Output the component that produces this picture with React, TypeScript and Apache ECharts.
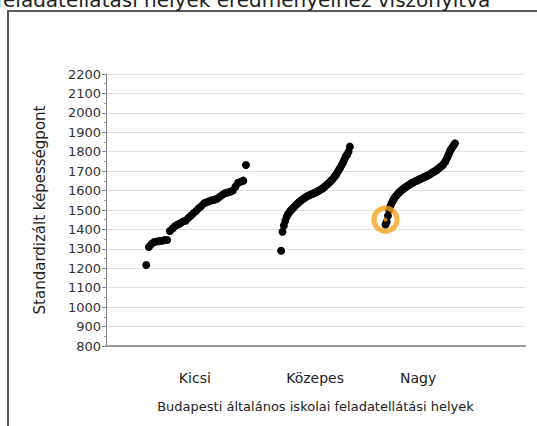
import React, { useEffect, useRef } from "react";
import * as echarts from "echarts";

const categories = ["Kicsi", "Közepes", "Nagy"];
const categoryCenters = [21.2, 49.9, 74.5];

const kicsiValues = [
  1217, 1310, 1325, 1335, 1338, 1340, 1342, 1345, 1346, 1392, 1405, 1418, 1425,
  1432, 1440, 1445, 1458, 1470, 1483, 1495, 1509, 1520, 1534, 1540, 1545, 1550,
  1553, 1558, 1568, 1578, 1586, 1590, 1594, 1600, 1620, 1640, 1646, 1651, 1732,
];

const kozepesValues = [
  1290, 1388, 1420, 1445, 1465, 1478, 1488, 1497, 1505, 1512, 1520, 1527, 1534,
  1540, 1546, 1552, 1557, 1562, 1567, 1571, 1575, 1578, 1581, 1584, 1587, 1590,
  1594, 1598, 1602, 1606, 1611, 1616, 1622, 1628, 1634, 1641, 1648, 1656, 1664,
  1673, 1683, 1694, 1706, 1718, 1730, 1745, 1760, 1775, 1785, 1800, 1826,
];

const nagyValues = [
  1425, 1440, 1470, 1500, 1520, 1535, 1548, 1558, 1567, 1575, 1582, 1589, 1595,
  1601, 1606, 1611, 1616, 1620, 1624, 1628, 1632, 1636, 1640, 1643, 1646, 1649,
  1652, 1655, 1658, 1661, 1664, 1667, 1670, 1673, 1676, 1679, 1682, 1686, 1690,
  1694, 1698, 1702, 1706, 1711, 1716, 1721, 1726, 1732, 1740, 1750, 1762, 1775,
  1790, 1805, 1815, 1825, 1835, 1843,
];

const highlightValue = 1450;

const yTicks = { min: 800, max: 2200, interval: 100 };

// group rank placement on the x value axis (start, span)
const groupLayout = [
  { start: 9.6, end: 33.4 },
  { start: 41.8, end: 58.2 },
  { start: 66.7, end: 83.3 },
];

function rankPoints(values: number[], idx: number): number[][] {
  const { start, end } = groupLayout[idx];
  const step = values.length > 1 ? (end - start) / (values.length - 1) : 0;
  return values.map((v, i) => [start + i * step, v]);
}

const FONT = "'DejaVu Sans', 'Liberation Sans', Arial, sans-serif";

export default function App() {
  const ref = useRef<HTMLDivElement>(null);
  useEffect(() => {
    if (!ref.current) return;
    const chart = echarts.init(ref.current, undefined, { renderer: "svg" });
    const groups = [kicsiValues, kozepesValues, nagyValues];
    chart.setOption({
      animation: false,
      backgroundColor: "#ffffff",
      textStyle: { fontFamily: FONT },
      graphic: [
        {
          type: "rect",
          shape: { x: 8, y: 11, width: 700, height: 600 },
          style: { fill: "none", stroke: "#5a5a5a", lineWidth: 2 },
          silent: true,
        },
        {
          type: "text",
          x: -4,
          y: 10,
          style: {
            text: "feladatellátási helyek eredményeihez viszonyítva",
            font: "20px 'DejaVu Sans', 'Liberation Sans', Arial, sans-serif",
            fill: "#222",
            verticalAlign: "bottom",
          },
          silent: true,
        },
      ],
      grid: { left: 106, right: 12, top: 74, bottom: 80 },
      xAxis: {
        type: "value",
        min: 0,
        max: 100,
        name: "Budapesti általános iskolai feladatellátási helyek",
        nameLocation: "middle",
        nameGap: 54,
        nameTextStyle: { fontSize: 13, color: "#222", fontFamily: FONT },
        axisLine: { show: true, lineStyle: { color: "#9a9a9a", width: 2 } },
        axisTick: { show: false },
        splitLine: { show: false },
        axisLabel: {
          customValues: categoryCenters,
          formatter: (v: number) => {
            const i = categoryCenters.findIndex((c) => Math.abs(c - v) < 0.01);
            return i >= 0 ? categories[i] : "";
          },
          margin: 25,
          fontSize: 14,
          color: "#222",
          fontFamily: FONT,
        },
      },
      yAxis: {
        type: "value",
        min: yTicks.min,
        max: yTicks.max,
        interval: yTicks.interval,
        name: "Standardizált képességpont",
        nameLocation: "middle",
        nameGap: 59,
        nameRotate: 90,
        nameTextStyle: { fontSize: 15, color: "#222", fontFamily: FONT },
        axisLine: { show: true, lineStyle: { color: "#8a8a8a", width: 1 } },
        axisTick: { show: true, length: 4, lineStyle: { color: "#8a8a8a" } },
        minorTick: { show: true, splitNumber: 2, length: 2, lineStyle: { color: "#999" } },
        splitLine: { show: true, lineStyle: { color: "#e0e0e0", width: 1 } },
        axisLabel: {
          fontSize: 13,
          color: "#333",
          margin: 5,
          fontFamily: FONT,
          formatter: (v: number) => String(v),
        },
      },
      series: [
        ...groups.map((vals, i) => ({
          name: categories[i],
          type: "scatter",
          symbol: "circle",
          symbolSize: 8,
          itemStyle: { color: "#000000", opacity: 1 },
          data: rankPoints(vals, i),
          z: 2,
        })),
        {
          name: "highlight-dot",
          type: "scatter",
          symbol: "circle",
          symbolSize: 4,
          itemStyle: { color: "#F7A11A" },
          data: [[groupLayout[2].start, highlightValue]],
          z: 3,
        },
        {
          name: "highlight-ring",
          type: "scatter",
          symbol: "circle",
          symbolSize: 23,
          itemStyle: { color: "rgba(0,0,0,0)", borderColor: "#F7A11A", borderWidth: 5 },
          data: [[groupLayout[2].start, highlightValue]],
          z: 4,
        },
      ],
    });
    return () => chart.dispose();
  }, []);
  return (
    <div
      ref={ref}
      style={{ position: "fixed", left: 0, top: 0, width: 537, height: 426 }}
    />
  );
}
